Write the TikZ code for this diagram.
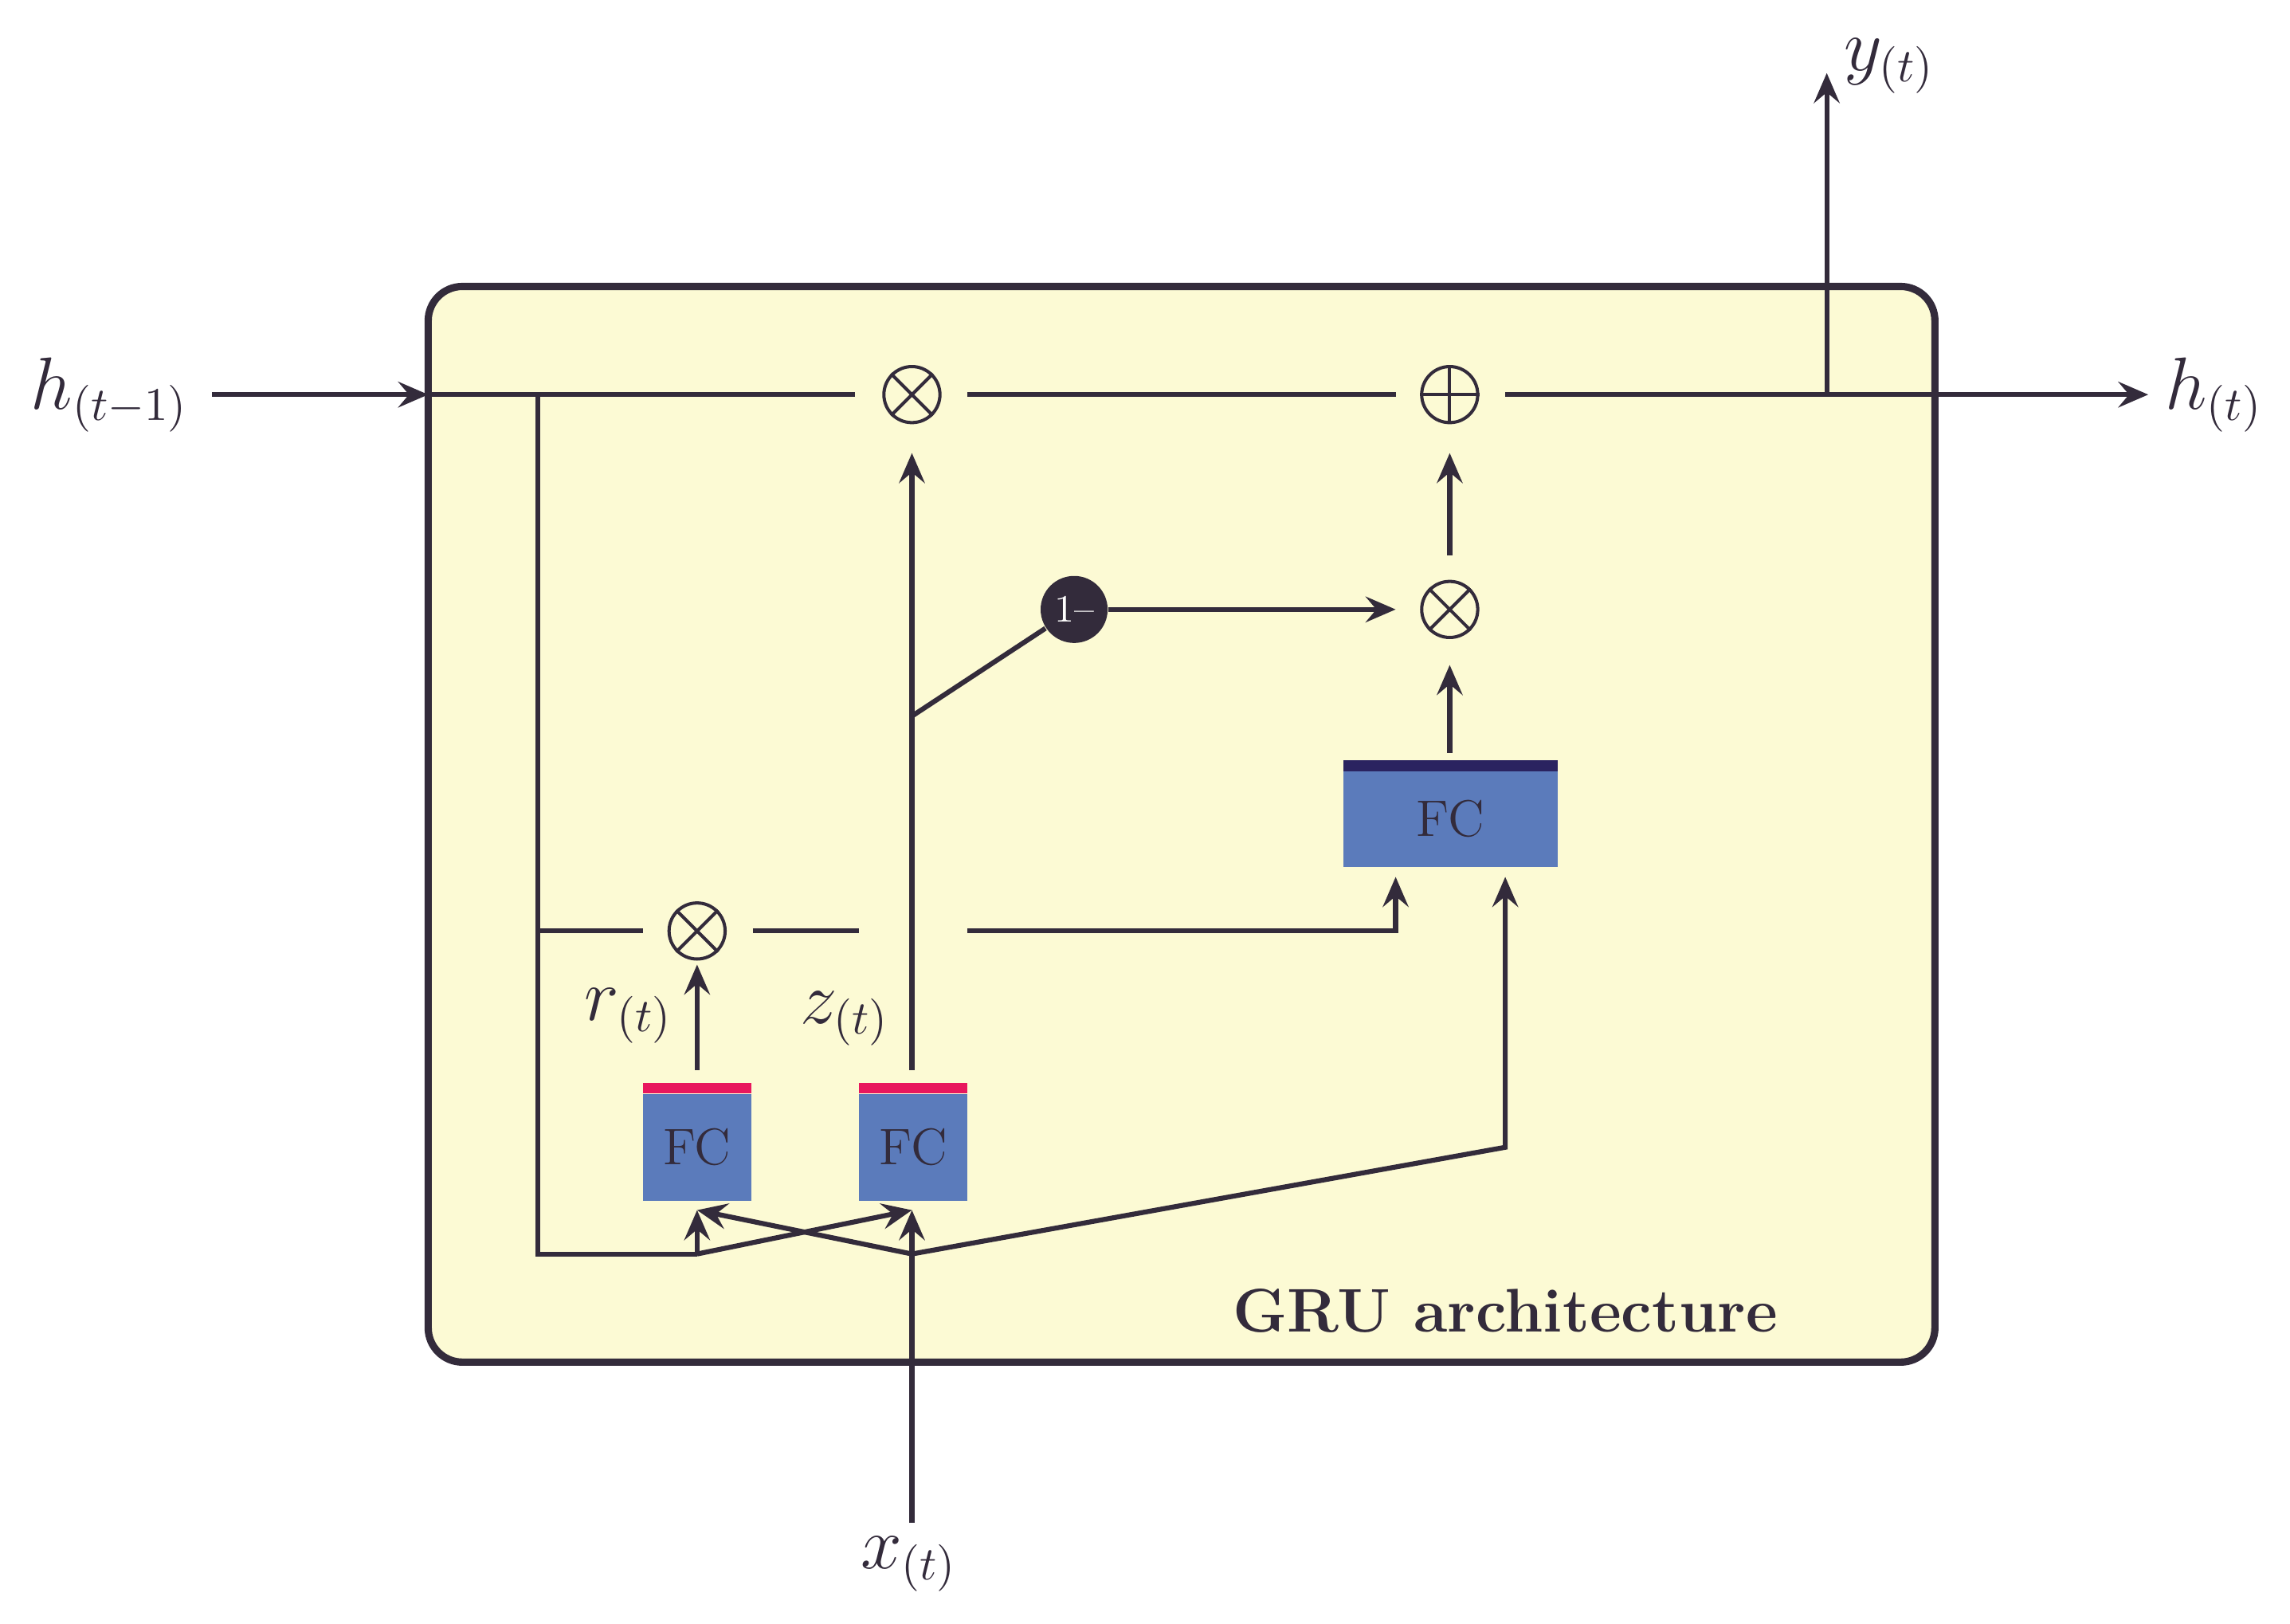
\documentclass[tikz,border=0pt]{standalone}
\usetikzlibrary{arrows.meta}
\definecolor{dk}{HTML}{332B3B}
\definecolor{bg}{HTML}{FCFAD4}
\definecolor{fcb}{HTML}{5B7BBB}
\definecolor{fcr}{HTML}{E8175D}
\definecolor{fcn}{HTML}{2A2360}
\begin{document}
\begin{tikzpicture}[x=0.012cm,y=-0.012cm,
  ln/.style={draw=dk,line width=1.15pt},
  ar/.style={ln,-{Stealth[length=7pt,width=6pt,inset=2.5pt]}},
  op/.style={circle,draw=dk,line width=0.75pt,minimum size=0.46cm,inner sep=0pt},
  fc/.style={fill=fcb,minimum width=74*0.012cm,inner sep=0pt,font=\large,text=dk},
  lab/.style={text=dk,font=\fontsize{16}{19}\selectfont}]
\useasboundingbox (0,0) rectangle (1567,1111);
\draw[fill=bg,draw=dk,line width=1.7pt,rounded corners=8pt] (293,196) rectangle (1324,932);
% nodes
\node[lab] (hin) at (75,270) {$h_{(t-1)}$};
\node[lab] (hout) at (1515,270) {$h_{(t)}$};
\node[lab] (y) at (1293,45) {$y_{(t)}$};
\node[lab] (x) at (622,1070) {$x_{(t)}$};
\node[lab] (r) at (430,695) {$r_{(t)}$};
\node[lab] (z) at (578,697) {$z_{(t)}$};
\node[op] (m1) at (624,270) {};
\node[op] (p1) at (992,270) {};
\node[op] (m2) at (992,417) {};
\node[op] (m3) at (477,637) {};
\foreach \n in {m1,m2,m3}{\draw[dk,line width=0.75pt] (\n.45)--(\n.225) (\n.135)--(\n.315);}
\draw[dk,line width=0.75pt] (p1.north)--(p1.south) (p1.west)--(p1.east);
\node[circle,fill=dk,text=white,minimum size=0.55cm,inner sep=0pt,font=\small] (om) at (735,417) {1--};
\node[fc,minimum height=73*0.012cm] (fr) at (477,785) {FC};
\fill[fcr] (440,741) rectangle (514,748);
\node[fc,minimum height=73*0.012cm] (fz) at (625,785) {FC};
\fill[fcr] (588,741) rectangle (662,748);
\node[fc,minimum width=147*0.012cm,minimum height=66*0.012cm] (fh) at (992.5,560) {FC};
\fill[fcn] (919,520) rectangle (1066,528);
\node[font=\Large\bfseries,text=dk] (gru) at (1030,897) {GRU architecture};
% coordinates
\coordinate (tl) at (368,270);
\coordinate (bl) at (368,858);
\coordinate (jr) at (477,858);
\coordinate (jx) at (624,858);
\coordinate (jz) at (624,490);
\coordinate (kh) at (1030,785);
\coordinate (yb) at (1250,270);
% top line
\draw[ar] (145,270) -- (293,270);
\draw[ln] (293,270) -- (585,270);
\draw[ln] (662,270) -- (955,270);
\draw[ar] (1030,270) -- (1470,270);
\draw[ar] (yb) -- (1250,50);
% left loop
\draw[ln] (tl) -- (bl) -- (jr);
\draw[ln] (368,637) -- (440,637);
\draw[ln] (515,637) -- (588,637);
\draw[ar] (662,637) -- (955,637) -- (955,600);
\draw[ar] (477,732) -- (477,660);
% z path
\draw[ar] (624,732) -- (624,310);
\draw[ln] (jz) -- (om);
\draw[ar] (om) -- (955,417);
\draw[ar] (992,515) -- (992,455);
\draw[ar] (992,380) -- (992,310);
% inputs
\draw[ar] (624,1042) -- (624,828);
\draw[ar] (jr) -- (477,828);
\draw[ar] (jr) -- (624,828);
\draw[ar] (jx) -- (477,828);
\draw[ar] (jx) -- (kh) -- (1030,600);
\end{tikzpicture}
\end{document}
